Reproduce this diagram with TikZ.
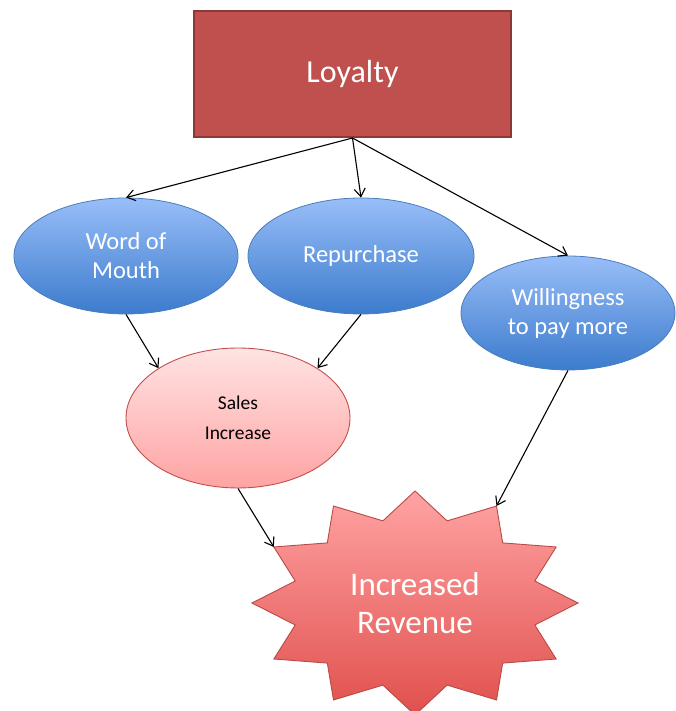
\documentclass[tikz,border=0pt]{standalone}
\usepackage{fontspec}
\setmainfont{Carlito}
\usepackage{tikz}
\usetikzlibrary{shapes.geometric}
\usetikzlibrary{arrows.meta}
\usetikzlibrary{calc}
\definecolor{loyalFill}{HTML}{C0504D}
\definecolor{loyalEdge}{HTML}{8C3836}
\definecolor{blueTop}{HTML}{98BEF8}
\definecolor{blueBot}{HTML}{3C7BCD}
\definecolor{blueEdge}{HTML}{4A7EBB}
\definecolor{pinkTop}{HTML}{FFE3E3}
\definecolor{pinkBot}{HTML}{FFA3A3}
\definecolor{pinkEdge}{HTML}{C0504D}
\definecolor{starTop}{HTML}{FFA3A3}
\definecolor{starBot}{HTML}{E0504D}
\definecolor{starEdge}{HTML}{B84A47}
\tikzset{myboxTop/.style={draw=loyalEdge, line width=2pt, fill=loyalFill, minimum width=317pt, minimum height=126pt, text=white, font=\fontsize{32}{38}\selectfont}}
\tikzset{myovalBlue/.style={ellipse, draw=blueEdge, line width=0.8pt, top color=blueTop, bottom color=blueBot, text=white, align=center, inner sep=0pt, font=\fontsize{24.5}{29}\selectfont}}
\tikzset{myovalPink/.style={ellipse, draw=pinkEdge, line width=0.9pt, top color=pinkTop, bottom color=pinkBot, text=black, align=center, inner sep=0pt, font=\fontsize{19.5}{30}\selectfont}}
\tikzset{myStar/.style={draw=starEdge, line width=0.9pt, top color=starTop, bottom color=starBot, line join=miter}}
\tikzset{myStarText/.style={text=white, align=center, font=\fontsize{33}{38}\selectfont}}
\tikzset{myarrow/.style={-{Straight Barb[length=8pt,width=11pt]}, line width=1.1pt}}

\begin{document}
\begin{tikzpicture}[x=1pt,y=1pt]

\useasboundingbox (0,0) rectangle (675,711);

\node[myboxTop] (loyalty) at (352.5, 637) {Loyalty};

\node[myovalBlue, minimum width=224pt, minimum height=116pt] (mouth) at (126, 455) {Word of\\Mouth};
\node[myovalBlue, minimum width=226pt, minimum height=116pt] (repurchase) at (361, 455) {Repurchase};
\node[myovalBlue, minimum width=214pt, minimum height=114pt] (willing) at (568, 398) {Willingness\\to pay more};

\node[myovalPink, minimum width=224pt, minimum height=140pt] (sales) at (238, 293) {Sales\\Increase};

\coordinate (revenue) at (415, 108);
\foreach \i in {0,...,11}{
  \coordinate (rev-o\i) at ($(revenue)+({90-30*\i}:163 and 112)$);
  \coordinate (rev-i\i) at ($(revenue)+({105-30*\i}:124 and 85)$);
}
\draw[myStar] (rev-o11) \foreach \i in {0,...,10}{ -- (rev-i\i) -- (rev-o\i)} -- (rev-i11) -- cycle;
\node[myStarText] (revlabel) at (revenue) {Increased\\Revenue};

\draw[myarrow] (loyalty.south) to (mouth.north);
\draw[myarrow] (loyalty.south) to (repurchase.north);
\draw[myarrow] (loyalty.south) to (willing.north);

\draw[myarrow] (mouth.south) to (sales.north west);
\draw[myarrow] (repurchase.south) to (sales.north east);

\draw[myarrow] (sales.south) to (rev-o10);
\draw[myarrow] (willing.south) to (rev-o1);

\end{tikzpicture}
\end{document}
